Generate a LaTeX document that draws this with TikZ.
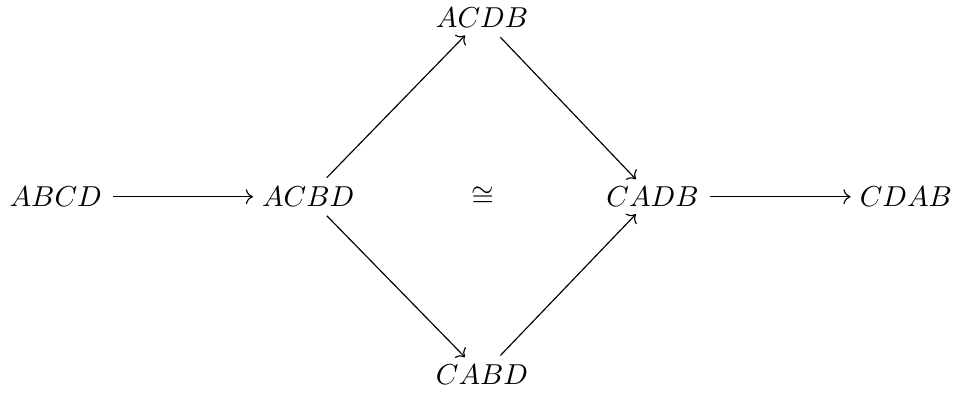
\documentclass[tikz,border=0pt]{standalone}
\usepackage{amsmath}
\usepackage{amssymb}
\usetikzlibrary{arrows.meta}

\begin{document}
\begin{tikzpicture}[word/.style={inner sep=1pt},arrow/.style={-{Computer Modern Rightarrow},line width=0.4pt,shorten <=2.8pt,shorten >=2pt}]
\useasboundingbox (0,0) rectangle (11.82,4.80);
\node[word] (abcd) at (0.68,2.40){\(ABCD\)};
\node[word] (acbd) at (3.76,2.40){\(ACBD\)};
\node[word] (acdb) at (5.88,4.58){\(ACDB\)};
\node[word] (cabd) at (5.88,0.23){\(CABD\)};
\node[word] (cong) at (5.89,2.40){\(\cong\)};
\node[word] (cadb) at (7.96,2.40){\(CADB\)};
\node[word] (cdab) at (11.05,2.40){\(CDAB\)};
\draw[arrow] (abcd) -- (acbd);\draw[arrow] (cadb) -- (cdab);
\draw[arrow] (acbd) -- (acdb);\draw[arrow] (acbd) -- (cabd);
\draw[arrow] (acdb) -- (cadb);\draw[arrow] (cabd) -- (cadb);
\end{tikzpicture}
\end{document}
